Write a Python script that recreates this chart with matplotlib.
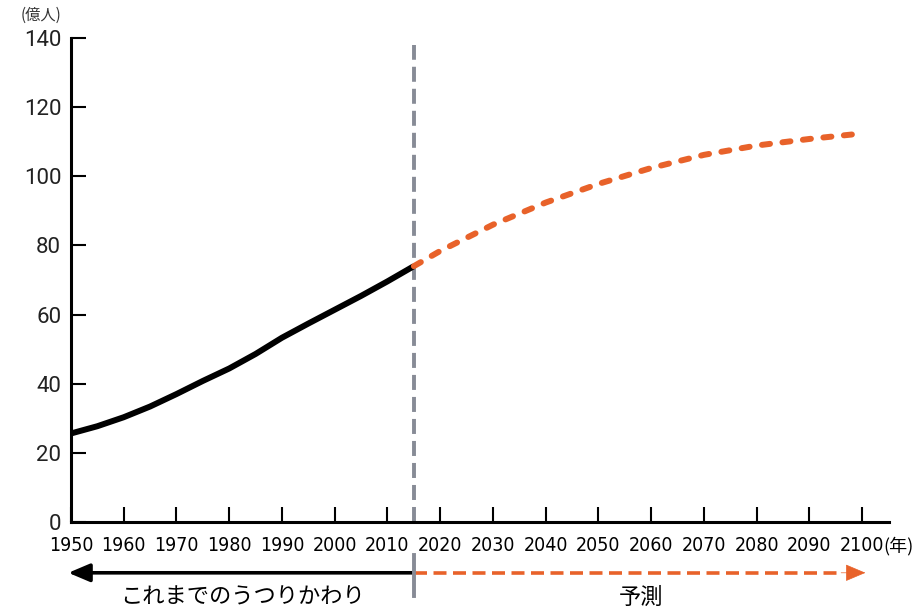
import matplotlib.pyplot as plt

plt.rcParams['font.family'] = ['Roboto', 'Noto Sans CJK JP', 'DejaVu Sans']

# world population, hundred-millions of people
past_years = [1950, 1955, 1960, 1965, 1970, 1975, 1980, 1985, 1990, 1995, 2000, 2005, 2010, 2015]
past_pop = [25.6, 27.7, 30.3, 33.4, 37.0, 40.8, 44.4, 48.6, 53.3, 57.4, 61.4, 65.4, 69.6, 74.0]

future_years = [2015, 2020, 2030, 2040, 2050, 2060, 2070, 2080, 2090, 2100]
future_pop = [74.0, 78.4, 86.0, 92.4, 97.8, 102.4, 106.2, 108.9, 110.8, 112.4]

x_ticks = list(range(1950, 2101, 10))
y_ticks = list(range(0, 141, 20))

BLACK = '#000000'
ORANGE = '#e8622a'
GRAY = '#878b96'


def main():
    fig = plt.figure(figsize=(9.18, 6.10), dpi=100)
    ax = fig.add_axes([0.0773, 0.1443, 0.8907, 0.7934])

    ax.plot(past_years, past_pop, color=BLACK, lw=4.3, solid_capstyle='butt', zorder=3)
    ax.plot(future_years, future_pop, color=ORANGE, lw=4.3, dash_capstyle='round',
            linestyle=(0, (1.35, 2.1)), zorder=3)

    # boundary between observed and projected
    ax.plot([2015, 2015], [0, 138.0], color=GRAY, lw=2.8, linestyle=(0, (3.86, 1.8)),
            zorder=2, clip_on=False)
    ax.plot([2015, 2015], [-0.068, -0.153], transform=ax.get_xaxis_transform(),
            color=GRAY, lw=2.8, clip_on=False, zorder=4)

    ax.set_xlim(1950, 2105)
    ax.set_ylim(0, 140)
    ax.set_xticks(x_ticks)
    ax.set_yticks(y_ticks)
    ax.set_xticklabels([str(y) for y in x_ticks], family=['DejaVu Sans'],
                       fontstretch='condensed', fontsize=14)
    ax.set_yticklabels([str(v) for v in y_ticks], fontsize=16, color='#222222')

    for side in ['top', 'right']:
        ax.spines[side].set_visible(False)
    for side in ['left', 'bottom']:
        ax.spines[side].set_linewidth(2.2)
    ax.tick_params(axis='both', direction='in', length=11, width=1.5)
    ax.tick_params(axis='x', pad=10)
    ax.tick_params(axis='y', pad=7)

    ax.text(-0.062, 1.0475, '(億人)', transform=ax.transAxes, fontsize=11,
            color='#333333', ha='left', va='center', family=['Noto Sans CJK JP'])
    ax.text(0.993, -0.05, '(年)', transform=ax.transAxes, fontsize=13,
            ha='left', va='center', family=['Noto Sans CJK JP'])

    # arrows under the time axis
    trans = ax.get_xaxis_transform()
    ax.annotate('', xy=(1949.5, -0.105), xytext=(2015, -0.105), xycoords=trans,
                textcoords=trans, annotation_clip=False,
                arrowprops=dict(arrowstyle='-|>,head_length=1.3,head_width=0.55',
                                color=BLACK, lw=2.6, shrinkA=0, shrinkB=0))
    ax.plot([2015, 2095.5], [-0.105, -0.105], transform=trans, color=ORANGE, lw=2.6,
            linestyle=(0, (3.6, 1.8)), clip_on=False)
    ax.annotate('', xy=(2100.6, -0.105), xytext=(2096, -0.105), xycoords=trans,
                textcoords=trans, annotation_clip=False,
                arrowprops=dict(arrowstyle='-|>,head_length=1.3,head_width=0.55',
                                color=ORANGE, lw=0.5, shrinkA=0, shrinkB=0))

    ax.text(1982.5, -0.155, 'これまでのうつりかわり', transform=trans, fontsize=16,
            ha='center', va='center', family=['Noto Sans CJK JP'])
    ax.text(2058, -0.155, '予測', transform=trans, fontsize=16,
            ha='center', va='center', family=['Noto Sans CJK JP'])

    fig.savefig('out.png', dpi=100)


if __name__ == "__main__":
    main()
